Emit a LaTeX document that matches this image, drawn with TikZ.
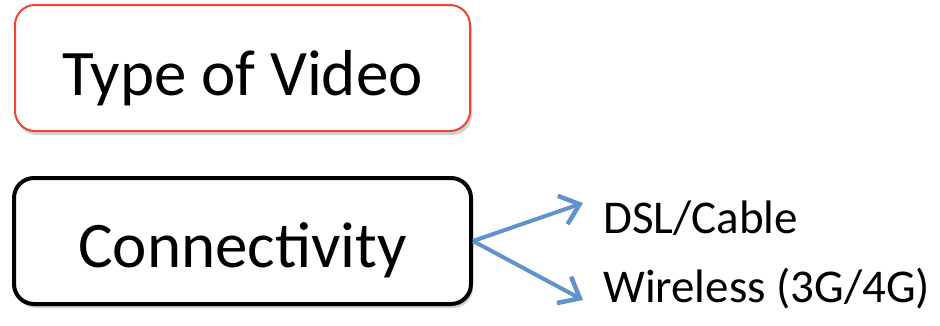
\documentclass[tikz,border=0pt]{standalone}
\usepackage{fontspec}
\setmainfont{Carlito}
\usetikzlibrary{arrows.meta,shadows}
\definecolor{boxred}{RGB}{235,70,50}
\definecolor{arrblue}{RGB}{96,146,203}
\begin{document}
\begin{tikzpicture}[x=1pt,y=-1pt,
  bigbox/.style={rounded corners=20pt, minimum width=455pt, minimum height=126pt, fill=white, inner sep=0pt,
    font=\fontsize{65}{70}\selectfont, text depth=0pt,
    drop shadow={shadow xshift=2pt, shadow yshift=-4pt, opacity=0.18, fill=black}},
  label/.style={anchor=base west, inner sep=0pt, font=\fontsize{47}{52}\selectfont},
  conn/.style={draw=arrblue, line width=4pt, -{Straight Barb[length=18pt,width=30pt,line width=4.5pt]}}]
\useasboundingbox (0,0) rectangle (940,325);
\node[bigbox, draw=boxred, line width=2pt, text height=55pt] (type) at (242.5,68) {Type of Video};
\node[bigbox, draw=black, line width=4pt, minimum width=457pt, text height=52pt] (connect) at (242.5,241) {Connectivity};
\node[label] (dsl) at (603,233) {DSL/Cable};
\node[label] (wl) at (603,302) {Wireless (3G/4G)};
\coordinate (t1) at (583,203);
\coordinate (t2) at (583,300);
\draw[conn] (connect.east) -- (t1);
\draw[conn] (connect.east) -- (t2);
\end{tikzpicture}
\end{document}
